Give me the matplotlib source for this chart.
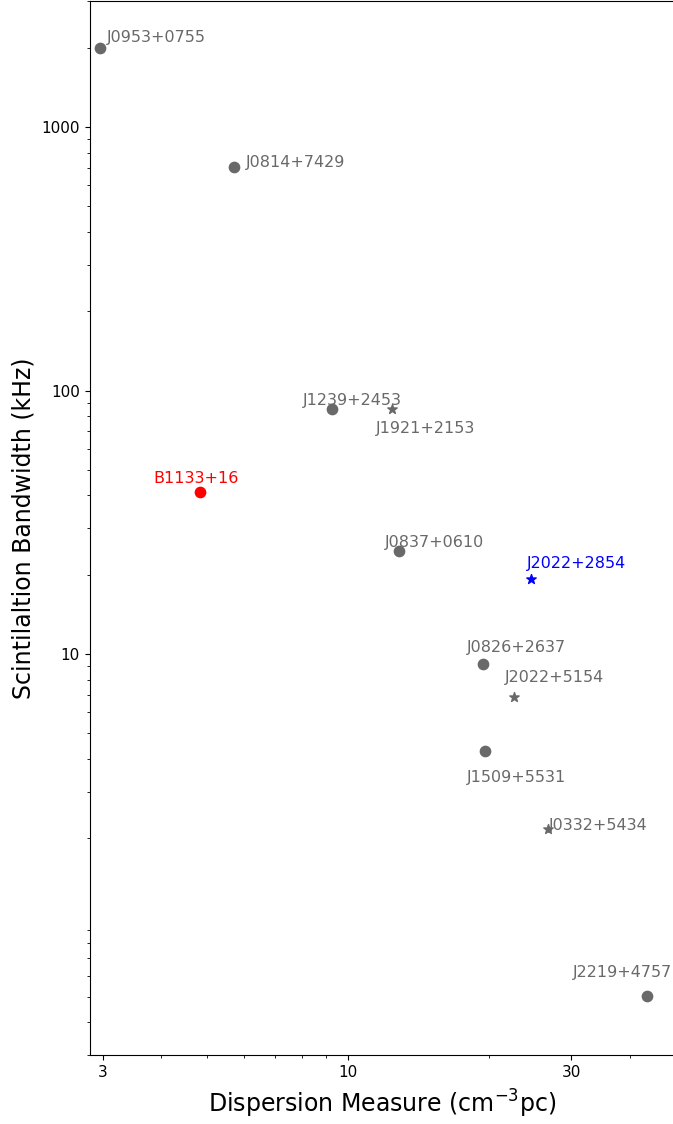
import matplotlib
matplotlib.use("Agg")
import matplotlib.pyplot as plt
from matplotlib.ticker import NullFormatter

# Pulsar sample: dispersion measure vs scintillation bandwidth
names = ["J0953+0755", "J0814+7429", "J1239+2453", "J1921+2153", "B1133+16",
         "J0837+0610", "J2022+2854", "J0826+2637", "J2022+5154", "J1509+5531",
         "J0332+5434", "J2219+4757"]
dm = [2.96, 5.73, 9.24, 12.44, 4.84, 12.86, 24.63, 19.45, 22.65, 19.61, 26.76, 43.5]
bw = [1990, 707, 85.0, 85.0, 41.3, 24.6, 19.2, 9.19, 6.89, 4.30, 2.16, 0.505]
kind = ["o", "o", "o", "*", "o", "o", "*", "o", "*", "o", "*", "o"]
colors = ["dimgray", "dimgray", "dimgray", "dimgray", "red", "dimgray", "blue",
          "dimgray", "dimgray", "dimgray", "dimgray", "dimgray"]

# label placement relative to each point, in pixels (dx, dy)
offsets = [(7, 6.6), (11, 0), (-29, 4.3), (-16, -24), (-46.7, 8.4), (-14.3, 4.3),
           (-4.4, 11), (-16.3, 11.4), (-9.3, 14.4), (-17.6, -31), (1, -0.7),
           (-74.3, 19)]

x_ticks = [3, 10, 30]
y_ticks = [10, 100, 1000]

fig = plt.figure(figsize=(6.73, 11.24), dpi=100)
ax = fig.add_axes([89.5 / 673, 1 - 1055.3 / 1124, 585.5 / 673, 1054.0 / 1124])

for x, y, m, c in zip(dm, bw, kind, colors):
    ax.scatter(x, y, marker=m, s=55 if m == "o" else 50, color=c, zorder=3)

for name, x, y, c, (dx, dy) in zip(names, dm, bw, colors, offsets):
    ax.annotate(name, (x, y), xytext=(dx, dy), textcoords="offset pixels",
                ha="left", va="baseline", fontsize=11.5, color=c)

ax.set_xscale("log")
ax.set_yscale("log")
ax.set_xlim(2.81, 50)
ax.set_ylim(0.3, 3000)

ax.set_xticks(x_ticks, [str(t) for t in x_ticks])
ax.set_yticks(y_ticks, [str(t) for t in y_ticks])
ax.xaxis.set_minor_formatter(NullFormatter())
ax.yaxis.set_minor_formatter(NullFormatter())
ax.tick_params(axis="both", which="major", labelsize=11)

ax.set_xlabel(r"Dispersion Measure (cm$^{-3}$pc)", fontsize=17, labelpad=5.5)
ax.set_ylabel("Scintilaltion Bandwidth (kHz)", fontsize=17)

fig.savefig("out.png", dpi=100)
